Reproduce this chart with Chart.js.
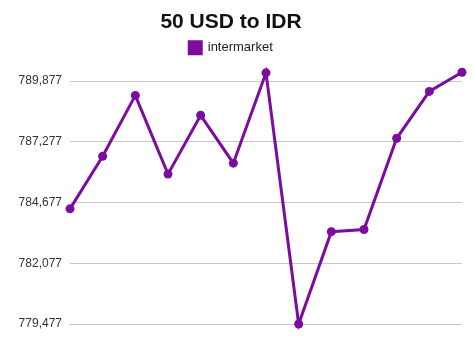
<!DOCTYPE html>
<html>
<head>
<meta charset="utf-8">
<title>50 USD to IDR</title>
<script src="https://cdn.jsdelivr.net/npm/chart.js@4"></script>
<style>
  html, body { margin: 0; padding: 0; background: #fff; }
  #wrap { width: 474px; height: 355px; }
</style>
</head>
<body>
<div id="wrap"><canvas id="chart" width="474" height="355"></canvas></div>
<script>
// values
const labels = ["1", "2", "3", "4", "5", "6", "7", "8", "9", "10", "11", "12", "13"];
const intermarket = [784409, 786663, 789267, 785896, 788415, 786365, 790235, 779477, 783432, 783526, 787430, 789438, 790261];
const yTicks = [779477, 782077, 784677, 787277, 789877];

const purple = "#7d0c9e";
const font = "'Liberation Sans', Arial, Helvetica, sans-serif";

// add some room under the legend
const legendGap = {
  id: "legendGap",
  beforeInit(chart) {
    const fit = chart.legend.fit;
    chart.legend.fit = function () {
      fit.bind(chart.legend)();
      this.height += 8;
    };
  },
};

const ctx = document.getElementById("chart").getContext("2d");
new Chart(ctx, {
  type: "line",
  data: {
    labels: labels,
    datasets: [
      {
        label: "intermarket",
        data: intermarket,
        borderColor: purple,
        backgroundColor: purple,
        borderWidth: 3,
        pointRadius: 4.5,
        pointBackgroundColor: purple,
        pointBorderWidth: 0,
        tension: 0,
        clip: false,
      },
    ],
  },
  options: {
    responsive: false,
    animation: false,
    layout: { padding: { left: 0, right: 12, top: 0, bottom: 23 } },
    plugins: {
      title: {
        display: true,
        text: "50 USD to IDR",
        color: "#111",
        font: { family: font, size: 21, weight: "bold" },
        padding: { top: 10, bottom: 2 },
      },
      legend: {
        labels: {
          boxWidth: 12,
          boxHeight: 12,
          padding: 4,
          color: "#222",
          font: { family: font, size: 13 },
        },
      },
      tooltip: { enabled: false },
    },
    scales: {
      x: {
        offset: false,
        grid: { display: false },
        border: { display: false },
        ticks: { display: false },
      },
      y: {
        min: yTicks[0],
        max: Math.max(...intermarket),
        border: { display: false },
        grid: { color: "#c8c8c8", lineWidth: 1, drawTicks: false },
        ticks: {
          padding: 8,
          color: "#333",
          font: { family: font, size: 12 },
          callback: (v) => Number(v).toLocaleString("en-US"),
        },
        afterBuildTicks: (scale) => {
          scale.ticks = yTicks.map((v) => ({ value: v }));
        },
        afterFit: (scale) => {
          scale.width = 70;
        },
      },
    },
  },
  plugins: [legendGap],
});
</script>
</body>
</html>
